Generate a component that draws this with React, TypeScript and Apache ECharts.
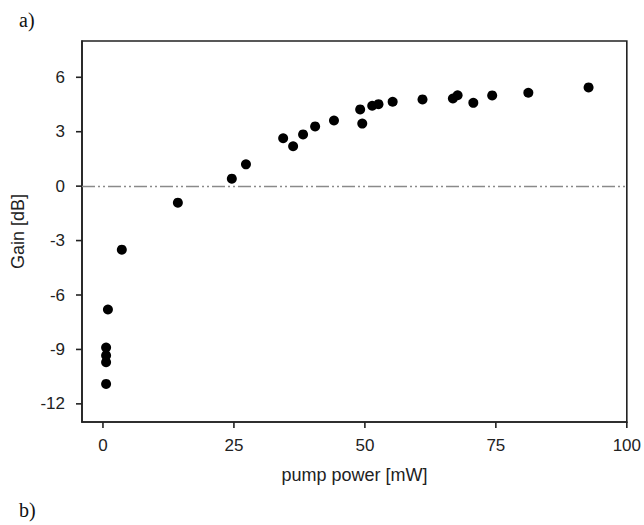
import React, { useEffect, useRef } from "react";
import * as echarts from "echarts";

const pumpPower: number[] = [
  0.6, 0.6, 0.6, 0.6, 0.95, 3.6, 14.3, 24.6, 27.3, 34.4, 36.3, 38.2, 40.5, 44.1,
  49.1, 49.5, 51.4, 52.6, 55.3, 61.0, 66.8, 67.7, 70.7, 74.3, 81.2, 92.7,
];
const gain: number[] = [
  -10.9, -9.7, -9.33, -8.9, -6.8, -3.5, -0.91, 0.41, 1.2, 2.64, 2.2, 2.85, 3.29, 3.62,
  4.23, 3.45, 4.43, 4.52, 4.65, 4.78, 4.83, 5.01, 4.59, 5.0, 5.15, 5.44,
];
const xTicks: number[] = [0, 25, 50, 75, 100];
const yTicks: number[] = [-12, -9, -6, -3, 0, 3, 6];

const X_MIN = -4;
const X_MAX = 100;
const Y_MIN = -13;
const Y_MAX = 8;

export default function App() {
  const ref = useRef<HTMLDivElement>(null);
  useEffect(() => {
    document.body.style.margin = "0";
    if (!ref.current) return;
    const chart = echarts.init(ref.current, null, { renderer: "svg" });
    const data = pumpPower.map((x, i) => [x, gain[i]]);
    const font = "'Liberation Sans', Arial, sans-serif";
    const axisLine = { show: true, onZero: false, lineStyle: { color: "#222222", width: 1.6 } };
    chart.setOption({
      animation: false,
      backgroundColor: "#ffffff",
      grid: {
        left: 82,
        right: 16,
        top: 41,
        bottom: 103,
        show: true,
        borderColor: "#222222",
        borderWidth: 1.6,
        backgroundColor: "transparent",
      },
      xAxis: {
        type: "value",
        min: X_MIN,
        max: X_MAX,
        name: "pump power [mW]",
        nameLocation: "middle",
        nameGap: 44,
        nameTextStyle: { fontFamily: font, fontSize: 18, color: "#222" },
        axisLine,
        splitLine: { show: false },
        axisTick: { show: false },
        axisLabel: {
          customValues: xTicks,
          margin: 0,
          formatter: (v: number) => `{t|}\n{v|${v}}`,
          rich: {
            t: { width: 1.6, height: 6, lineHeight: 6, backgroundColor: "#222222", align: "center" },
            v: { fontFamily: font, fontSize: 17, color: "#222", lineHeight: 34, align: "center" },
          },
        },
      },
      yAxis: {
        type: "value",
        min: Y_MIN,
        max: Y_MAX,
        name: "Gain [dB]",
        nameLocation: "middle",
        nameGap: 55,
        nameTextStyle: { fontFamily: font, fontSize: 18, color: "#222" },
        axisLine,
        splitLine: { show: false },
        axisTick: { show: false },
        axisLabel: {
          customValues: yTicks,
          margin: 0,
          formatter: (v: number) => `{v|${v}}{g|}{t|}`,
          rich: {
            v: { fontFamily: font, fontSize: 17, color: "#222", verticalAlign: "middle" },
            g: { width: 11, height: 2, verticalAlign: "middle" },
            t: { width: 6, height: 1.6, backgroundColor: "#222222", verticalAlign: "middle" },
          },
        },
      },
      graphic: [
        {
          type: "text",
          left: 19,
          top: 10,
          style: {
            text: "a)",
            font: "20px 'Liberation Serif', 'Times New Roman', serif",
            fill: "#111",
          },
        },
        {
          type: "text",
          left: 19,
          top: 500,
          style: {
            text: "b)",
            font: "20px 'Liberation Serif', 'Times New Roman', serif",
            fill: "#111",
          },
        },
      ],
      series: [
        {
          type: "scatter",
          data,
          symbol: "circle",
          symbolSize: 10,
          itemStyle: { color: "#000000", opacity: 1 },
          markLine: {
            silent: true,
            symbol: "none",
            label: { show: false },
            lineStyle: { color: "#8a8a8a", width: 1.3, type: [13, 3, 2, 3, 2, 3] },
            data: [{ yAxis: 0 }],
          },
        },
      ],
    });
    return () => chart.dispose();
  }, []);
  return <div ref={ref} style={{ width: 644, height: 525 }} />;
}
